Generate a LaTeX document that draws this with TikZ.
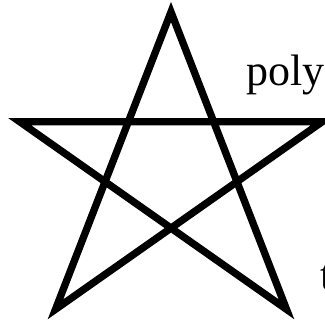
\documentclass[tikz,border=0pt]{standalone}
\usepackage{fontspec}
\setmainfont{Liberation Serif}
\begin{document}
\begin{tikzpicture}[
    x=0.75pt, y=-0.75pt,
    star line/.style={line width=5.5pt, line join=miter},
    every node/.style={font=\fontsize{33}{36}\selectfont, inner sep=0pt, anchor=base west}
  ]
    \useasboundingbox (0,0) rectangle (325,322);
    \clip (0,0) rectangle (325,322);
    \coordinate (top) at (171,12);
    \coordinate (left) at (19.7,121.7);
    \coordinate (right) at (322.3,121.7);
    \coordinate (bottomleft) at (55.5,309.3);
    \coordinate (bottomright) at (286.5,309.3);
    \draw[star line] (top) -- (bottomleft) -- (right) -- (left) -- (bottomright) -- cycle;
    \node (poly) at (246,85) {poly};
    \node (t) at (320,289) {t};
  \end{tikzpicture}
\end{document}
